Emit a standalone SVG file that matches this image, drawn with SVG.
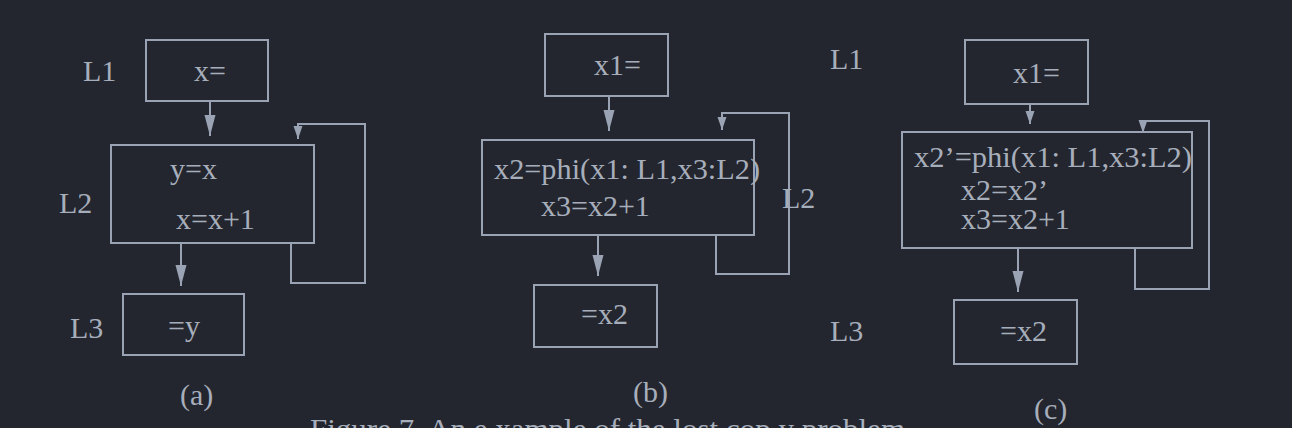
<svg xmlns="http://www.w3.org/2000/svg" width="1292" height="428" viewBox="0 0 1292 428">
<style>
.bg{fill:#23262e}
.box{fill:none;stroke:#9aa3b4;stroke-width:2}
.ln{fill:none;stroke:#9aa3b4;stroke-width:2}
text{font-family:"Liberation Serif","Times New Roman",serif;font-size:30px;fill:#a7aebb}
</style>
<defs>
<marker id="big" markerUnits="userSpaceOnUse" markerWidth="22" markerHeight="12" refX="21" refY="6" orient="auto">
<path d="M0,0.5 L21,6 L0,11.5 z" fill="#9aa3b4"/>
</marker>
<marker id="small" markerUnits="userSpaceOnUse" markerWidth="14" markerHeight="10" refX="13" refY="5" orient="auto">
<path d="M0,0.5 L13,5 L0,9.5 z" fill="#9aa3b4"/>
</marker>
</defs>
<rect class="bg" x="0" y="0" width="1292" height="428"/>

<g id="connectors">
<path class="ln" d="M210,101 V136" marker-end="url(#big)"/>
<path class="ln" d="M181,243 V286" marker-end="url(#big)"/>
<path class="ln" d="M291,243 V283 H365 V124 H298 V139" marker-end="url(#small)"/>
<path class="ln" d="M609,96 V131" marker-end="url(#big)"/>
<path class="ln" d="M598,235 V276" marker-end="url(#big)"/>
<path class="ln" d="M716,235 V274 H789 V113 H722 V130" marker-end="url(#small)"/>
<path class="ln" d="M1030,104 V124" marker-end="url(#small)"/>
<path class="ln" d="M1018,248 V292" marker-end="url(#big)"/>
<path class="ln" d="M1135,248 V289 H1209 V121 H1143 V133" marker-end="url(#small)"/>
</g>

<g id="a-L1">
<rect class="box" x="146" y="40" width="122" height="61"/>
<text x="194" y="81">x=</text>
</g>
<g id="a-L2">
<rect class="box" x="111" y="145" width="203" height="98"/>
<text x="170" y="179">y=x</text>
<text x="176" y="229">x=x+1</text>
</g>
<g id="a-L3">
<rect class="box" x="123" y="294" width="121" height="61"/>
<text x="168" y="336">=y</text>
</g>
<g id="a-labels">
<text x="83" y="81">L1</text>
<text x="59" y="213">L2</text>
<text x="70" y="338">L3</text>
<text x="180" y="405">(a)</text>
</g>

<g id="b-L1">
<rect class="box" x="545" y="34" width="123" height="62"/>
<text x="594" y="75">x1=</text>
</g>
<g id="b-L2">
<rect class="box" x="482" y="140" width="272" height="95"/>
<text x="494" y="179" textLength="266" lengthAdjust="spacingAndGlyphs">x2=phi(x1: L1,x3:L2)</text>
<text x="541" y="216">x3=x2+1</text>
</g>
<g id="b-L3">
<rect class="box" x="534" y="285" width="123" height="62"/>
<text x="581" y="324">=x2</text>
</g>
<g id="b-labels">
<text x="782" y="208">L2</text>
<text x="633" y="402">(b)</text>
</g>

<g id="c-L1">
<rect class="box" x="965" y="40" width="123" height="64"/>
<text x="1013" y="83">x1=</text>
</g>
<g id="c-L2">
<rect class="box" x="902" y="132" width="290" height="116"/>
<text x="914" y="167" textLength="278" lengthAdjust="spacingAndGlyphs">x2’=phi(x1: L1,x3:L2)</text>
<text x="961" y="200">x2=x2’</text>
<text x="961" y="229">x3=x2+1</text>
</g>
<g id="c-L3">
<rect class="box" x="954" y="300" width="123" height="64"/>
<text x="1000" y="341">=x2</text>
</g>
<g id="c-labels">
<text x="830" y="69">L1</text>
<text x="830" y="341">L3</text>
<text x="1034" y="419">(c)</text>
</g>

<g id="caption">
<text x="310" y="439" textLength="595" lengthAdjust="spacingAndGlyphs">Figure 7. An e xample of the lost cop y problem</text>
</g>
</svg>
